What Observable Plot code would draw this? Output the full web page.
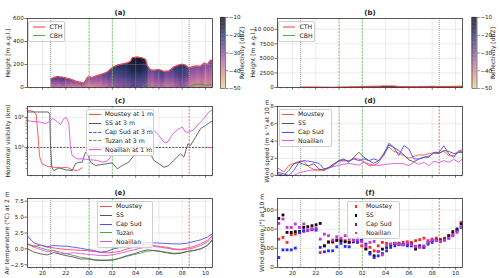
<!DOCTYPE html>
<html>
<head>
<meta charset="utf-8">
<script src="https://cdn.jsdelivr.net/npm/d3@7"></script>
<script src="https://cdn.jsdelivr.net/npm/@observablehq/plot@0.6"></script>
<style>
html,body{margin:0;padding:0;background:#fff;}
#fig{position:relative;width:500px;height:278px;overflow:hidden;background:#fff;font-family:"DejaVu Sans",sans-serif;}
#fig svg{position:absolute;overflow:visible;}
.leg{position:absolute;box-sizing:border-box;padding:0.5px 0;background:rgba(255,255,255,0.8);border:0.7px solid #cfcfcf;border-radius:2px;font-family:"DejaVu Sans",sans-serif;font-size:6.2px;color:#222;line-height:1;}
.leg .row{height:8.85px;display:flex;align-items:center;white-space:nowrap;}
.leg .sw{display:inline-block;width:12px;height:0;margin:0 4px 0 2px;}
.leg .mk{display:inline-block;width:2.8px;height:2.8px;margin:0 8.5px 0 6.6px;}
</style>
</head>
<body>
<div id="fig"></div>
<script>
// ---------- shared axis data ----------
const tickHours = [20, 22, 24, 26, 28, 30, 32, 34];
const tickLabels = ["20", "22", "00", "02", "04", "06", "08", "10"];
const xDomain = [18.71, 34.6];
const eventTime = [20.7, 24.0, 26.0, 32.6];
const eventKindTop = ["fog", "cloud", "cloud", "fog"];
const eventKindLow = ["fog", "cloud", "cloud", "end"];

// ---------- (a)/(b) cloud radar ----------
const cthTime = [20.69, 20.97, 21.26, 21.55, 21.83, 22.12, 22.40, 22.83, 23.26, 23.55,
  23.89, 24.27, 24.70, 25.13, 25.56, 25.99, 26.42, 26.85, 27.28, 27.56,
  27.70, 28.13, 28.56, 28.85, 29.00, 29.28, 29.56, 29.99, 30.42, 30.85,
  31.28, 31.71, 32.00, 32.28, 32.57, 33.14, 33.57, 33.86, 34.15, 34.43, 34.60];
const cth = [74, 88, 95, 92, 88, 80, 74, 56, 46, 38,
  94, 88, 105, 118, 135, 175, 195, 205, 215, 228,
  259, 265, 258, 245, 191, 155, 150, 158, 140, 145,
  180, 197, 203, 195, 172, 188, 185, 215, 200, 240, 235];
const reflLow = [-37, -36, -37, -35, -36, -37, -38, -39, -38, -39,
  -40, -39, -38, -36, -33, -31, -30, -29, -28, -26,
  -25, -26, -27, -29, -36, -37, -35, -34, -37, -36,
  -33, -30, -31, -34, -39, -40, -38, -41, -39, -40, -40];
const reflMid = [-31, -30, -29, -28, -30, -32, -33, -34, -33, -35,
  -35, -34, -33, -30, -27, -25, -23, -22, -20, -18,
  -17, -17, -19, -21, -30, -32, -29, -27, -31, -29,
  -25, -22, -23, -26, -34, -35, -33, -36, -34, -35, -35];
const reflTop = [-25, -24, -23, -22, -24, -26, -28, -30, -29, -31,
  -31, -30, -29, -26, -23, -20, -19, -18, -16, -15,
  -14, -14, -16, -18, -26, -28, -25, -23, -27, -25,
  -21, -19, -20, -23, -29, -30, -28, -31, -29, -30, -30];
const layerPos = [0.15, 0.55, 0.92];
const cbhTime = [28.45, 28.7, 28.95, 29.2, 29.42, 29.5, 32.5, 32.75, 33.0, 33.4, 33.8, 34.1, 34.35, 34.6];
const cbh = [0, 18, 26, 20, 0, null, 0, 15, 25, 27, 26, 20, 27, 28];
const reflStops = [-50, -44, -38, -32, -26, -20, -15, -10];
const reflColors = ["#e6d49a", "#dba58c", "#c97b9c", "#9b5aa2", "#5e4a90", "#2f3a6c", "#1a1d3a", "#0c0c12"];
const cbTicks = [-10, -20, -30, -40, -50];

// ---------- (c) visibility ----------
const visTimeMoustey = [18.71, 18.9, 19.2, 19.45, 19.6, 19.75, 19.95, 20.4, 20.97, 21.55, 22.12, 22.55, 22.98, 23.41, 23.5, 34.2, 34.6];
const visMoustey = [17000, 16800, 16000, 13000, 3000, 500, 290, 235, 220, 210, 220, 180, 170, 210, null, 1000, 1000];
const visTimeSS = [18.71, 20.5, 20.62, 20.69, 20.8, 20.97, 21.4, 21.97, 22.55, 22.83,
  23.12, 23.41, 23.69, 23.89, 24.12, 24.55, 24.98, 25.56, 25.99, 26.42,
  26.85, 27.41, 27.84, 28.13, 28.42, 28.8, 29.13, 29.56, 29.99, 30.42,
  30.85, 31.28, 31.57, 31.85, 32.14, 32.49, 32.71, 33.14, 33.57, 34.0, 34.43, 34.6];
const visSS = [15100, 15100, 12600, 1000, 219, 170, 209, 182, 170, 288,
  324, 324, 692, 617, 324, 251, 269, 288, 309, 195,
  251, 324, 537, 692, 912, 1000, 794, 372, 288, 219,
  251, 372, 479, 617, 479, 1318, 1175, 2188, 4169, 5370, 7000, 7500];
const visTimeNoaillan = [18.71, 18.86, 19.83, 20.26, 20.55, 20.83, 21.12, 21.55, 21.83, 22.06,
  22.26, 22.4, 22.55, 22.98, 23.55, 24.12, 24.7, 25.13, 25.56, 26.0,
  26.5, 27.0, 27.5, 28.0, 28.5, 29.13, 29.56, 29.99, 30.42, 30.71,
  31.0, 31.28, 31.71, 32.0, 32.28, 32.57, 33.0, 33.43, 33.86, 34.28, 34.6];
const visNoaillan = [7943, 7586, 6918, 6166, 7079, 9120, 7943, 5754, 9120, 9772,
  6166, 1023, 537, 417, 417, 389, 372, 324, 355, 562,
  1000, 1585, 2239, 2818, 3548, 4786, 3715, 2512, 1514, 1445,
  2188, 3020, 4169, 4786, 3236, 3236, 3890, 6166, 9120, 15136, 17783];
const visTicks = [1000, 10000];
const visTickLabels = ["10³", "10⁴"];
const visMinor = [200, 300, 400, 500, 600, 700, 800, 900, 2000, 3000, 4000, 5000, 6000, 7000, 8000, 9000, 20000];
const fogThreshold = [1000];

// ---------- (d) wind speed ----------
const dTime = [18.72, 19.25, 19.68, 20.11, 20.54, 20.97, 21.4, 21.83, 22.26, 22.69,
  23.12, 23.55, 23.98, 24.41, 24.84, 25.27, 25.7, 26.13, 26.56, 26.98,
  27.41, 27.84, 28.27, 28.7, 29.13, 29.56, 29.99, 30.42, 30.85, 31.28,
  31.71, 32.14, 32.57, 33.0, 33.42, 33.85, 34.28, 34.6];
const wsMoustey = [0.88, 0.4, 1.15, 1.4, 1.6, 1.65, 1.0, 0.7, 0.6, 0.63,
  0.85, 1.35, 1.65, 1.7, 1.72, 2.0, 1.9, 1.6, 1.15, 1.15,
  1.5, 2.6, 3.3, 2.8, 2.6, 2.3, 2.0, 2.2, 2.4, 2.35,
  2.55, 2.62, 2.65, 2.8, 2.3, 2.3, 2.8, 3.0];
const wsSS = [0.2, 0.0, 0.58, 1.35, 1.54, 1.27, 1.15, 1.35, 0.77, 0.58,
  0.96, 1.35, 1.73, 1.92, 1.54, 2.12, 2.69, 2.12, 1.73, 1.42,
  1.73, 2.31, 3.55, 3.25, 2.9, 2.4, 1.8, 1.6, 1.9, 2.1,
  2.25, 2.6, 2.55, 2.9, 2.8, 2.55, 2.65, 2.7];
const wsCapSud = [0.38, 0.2, 0.0, 0.58, 1.54, 1.73, 1.65, 1.54, 1.42, 0.77,
  0.88, 1.15, 1.73, 1.8, 1.65, 1.92, 1.73, 1.92, 1.73, 1.92,
  1.73, 2.5, 3.73, 3.27, 2.31, 3.46, 3.08, 1.92, 1.92, 2.12,
  2.12, 2.69, 2.69, 3.46, 2.5, 2.12, 2.88, 2.69];
const wsNoaillan = [0, 0, 0, 0, 0.3, 0.45, 0.58, 0.62, 0.67, 0.75,
  0.9, 1.04, 1.2, 1.3, 1.4, 1.3, 1.2, 1.54, 1.35, 1.2,
  1.15, 1.27, 1.33, 1.4, 1.4, 1.35, 1.15, 1.55, 1.3, 1.54,
  1.15, 1.65, 1.5, 1.73, 1.55, 1.85, 1.55, 1.92];
const wsTicks = [0, 2, 4, 6, 8];

// ---------- (e) air temperature ----------
const eTime = [18.72, 19.25, 19.83, 20.4, 20.97, 21.55, 22.12, 22.69, 23.26, 23.84,
  24.41, 24.98, 25.55, 26.13, 26.7, 27.27, 27.84, 28.42, 28.99, 29.56,
  30.14, 30.71, 31.28, 31.85, 32.43, 33.0, 33.57, 34.15, 34.58];
const tMoustey = [0.79, 0.35, 0.6, 0.26, 0.16, 0.0, -0.1, -0.16, -0.26, -0.26,
  -0.42, -0.53, -0.63, -0.53, -0.37, 0.0, 0.26, 0.53, 0.79, 0.53,
  0.37, 0.26, 0.0, -0.1, 0.16, 0.37, 0.79, 1.32, 2.1];
const tSS = [0.0, -0.5, -0.78, -0.95, -0.6, -0.85, -1.1, -1.3, -1.6, -1.58,
  -1.75, -1.84, -1.84, -1.74, -1.42, -1.05, -0.79, -0.42, -0.16, -0.26,
  -0.42, -0.63, -0.79, -0.68, -0.42, -0.26, 0.0, 0.53, 1.42];
const tCapSud = [2.0, 0.95, 0.6, 0.35, 0.53, 0.45, 0.42, 0.26, 0.1, -0.1,
  -0.26, -0.53, -0.37, 0.0, 0.26, 0.53, 0.68, 0.89, 1.0, 0.95,
  0.89, 0.84, 0.79, 0.79, 0.89, 1.16, 1.42, 1.84, 2.37];
const tTuzan = [0.68, 0.53, 0.16, -0.16, -0.26, -0.53, -0.79, -1.05, -1.32, -1.47,
  -1.68, -1.74, -1.74, -1.68, -1.47, -1.16, -0.89, -0.68, -0.37, -0.26,
  -0.37, -0.53, -0.68, -0.63, -0.42, -0.26, 0.0, 0.53, 1.32];
const tNoaillan = [0.79, 0.3, -0.1, -0.45, -0.3, -0.8, -0.75, -0.6, -0.75, -0.85,
  -0.95, -1.05, -1.05, -0.89, -0.68, -0.42, -0.16, 0.1, 0.37, 0.37,
  0.26, 0.1, -0.1, -0.16, -0.1, 0.16, 0.53, 1.05, 1.84];
const tTicks = [-2.5, 0, 2.5, 5, 7.5];
const tTickLabels = ["−2.5", "0.0", "2.5", "5.0", "7.5"];

// ---------- (f) wind direction ----------
const fTime = [18.82, 19.18, 19.53, 19.89, 20.24, 20.6, 20.96, 21.31, 21.67, 22.02,
  22.38, 22.74, 23.09, 23.45, 23.8, 24.16, 24.52, 24.87, 25.23, 25.58,
  25.94, 26.3, 26.65, 27.01, 27.36, 27.72, 28.08, 28.43, 28.79, 29.14,
  29.5, 29.86, 30.21, 30.57, 30.92, 31.28, 31.64, 31.99, 32.35, 32.7,
  33.06, 33.42, 33.77, 34.13, 34.48];
const wdMoustey = [148, 157, 131, 171, 174, 183, 188, 192, 201, 201,
  78, 113, 131, 131, 140, 143, 140, 134, 148, 152,
  113, 99, 105, 87, 113, 131, 126, 122, 126, 127,
  131, 134, 131, 140, 145, 153, 140, 148, 153, 148,
  153, 166, 178, 195, 235];
const wdSS = [256, 274, 183, 183, 187, 188, 209, 213, 218, 223,
  230, 113, 134, 136, 143, 140, 134, 131, 134, 140,
  140, 96, 78, 61, 84, 96, 105, 119, 126, 122,
  119, 122, 122, 96, 113, 105, 131, 140, 143, 140,
  148, 166, 187, 201, 227];
const wdCapSud = [52, 92, 92, 92, 101, 183, 192, 195, 197, 195,
  105, 82, 87, 87, 108, 126, 110, 108, 140, 131,
  143, 122, 70, 52, 61, 73, 87, 105, 113, 119,
  119, 113, 113, 110, 108, 110, 122, 131, 143, 136,
  143, 153, 166, 192, 209];
const wdNoaillan = [230, 253, 209, 209, 227, 209, 227, 195, 201, 206,
  148, 174, 166, 143, 160, 153, 166, 148, 140, 143,
  134, 113, 131, 136, 84, 66, 113, 122, 126, 122,
  119, 126, 119, 108, 105, 113, 131, 143, 140, 136,
  143, 153, 166, 183, 213];
const wdTicks = [0, 100, 200, 300];

// ---------- styling ----------
const C = {Moustey: "#ff4d4d", SS: "#555555", CapSud: "#4d4dff", Tuzan: "#4ca64c", Noaillan: "#dc55e0"};
const CDOT = {Moustey: "#ff2a2a", SS: "#111111", CapSud: "#2a2aff", Noaillan: "#c636e0"};
const EV = {
  fog: {stroke: "#9a9a9a", strokeDasharray: "1,1", strokeWidth: 1},
  cloud: {stroke: "#5cbf5c", strokeDasharray: "2,1.3", strokeWidth: 0.8},
  end: {stroke: "#e84848", strokeDasharray: "2,1.3", strokeWidth: 0.8}
};
const GRID = {stroke: "#b8b8b8", strokeOpacity: 0.45, strokeWidth: 0.6};
const ROWS = [{top: 0, h: 92, mt: 18, mb: 5}, {top: 92, h: 88, mt: 14, mb: 5}, {top: 180, h: 98, mt: 18, mb: 11}];
const ML = 27, MR = 38;
const minorHours = d3.range(19, 34.6, 0.5).filter(h => !tickHours.includes(h));
const fig = document.getElementById("fig");
const STYLE = {fontFamily: "DejaVu Sans, sans-serif", fontSize: "5.6px", background: "transparent", color: "#222", overflow: "visible"};

function pts(ts, vs) { return ts.map((t, i) => ({t, v: vs[i]})); }

function timeAxes(row) {
  return [
    Plot.axisX(minorHours, {tickSize: 1.4, tickFormat: () => "", label: null, stroke: "#333", strokeWidth: 0.6}),
    Plot.axisX(tickHours, {tickSize: 2.6, tickPadding: 1.2, label: null, stroke: "#333", strokeWidth: 0.7,
      tickFormat: row === 2 ? (d => tickLabels[tickHours.indexOf(d)]) : (() => "")})
  ];
}
function eventRules(kinds) {
  return eventTime.map((t, i) => Plot.ruleX([t], {...EV[kinds[i]]}));
}

function panel(col, row, o) {
  const R = ROWS[row];
  const svg = Plot.plot({
    width: 250, height: R.h,
    marginLeft: ML, marginRight: MR, marginTop: R.mt, marginBottom: R.mb,
    style: STYLE,
    x: {domain: xDomain},
    y: o.y,
    color: o.color,
    marks: [
      ...(o.under || []),
      Plot.gridX(tickHours, GRID),
      Plot.gridY(o.yTicks, GRID),
      ...eventRules(o.kinds),
      ...o.marks,
      Plot.frame({stroke: "#333", strokeWidth: 0.8}),
      ...timeAxes(row),
      Plot.axisY(o.yTicks, {tickSize: 2.6, tickPadding: 1.2, label: null, stroke: "#333", strokeWidth: 0.7,
        tickFormat: d => o.yLabels[o.yTicks.indexOf(d)]}),
      ...(o.yMinor ? [Plot.axisY(o.yMinor, {tickSize: 1.4, tickFormat: () => "", label: null, stroke: "#333", strokeWidth: 0.6})] : []),
      Plot.text([o.title], {text: d => d, frameAnchor: "top", dy: -3.5, lineAnchor: "bottom", fontWeight: "bold", fontSize: 7}),
      Plot.text([o.ylabel], {text: d => d, frameAnchor: "left", dx: -o.ylOff, rotate: -90, fontSize: 6, textAnchor: "middle"})
    ]
  });
  svg.style.left = (col * 250) + "px";
  svg.style.top = R.top + "px";
  fig.append(svg);
}

function colorbar(left, ml, lblOff) {
  const ramp = d3.range(-50, -10, 0.25);
  const svg = Plot.plot({
    width: 38, height: 92, marginLeft: ml, marginRight: 38 - ml - 5, marginTop: 17, marginBottom: 4,
    style: STYLE,
    x: {domain: [0, 1], axis: null},
    y: {domain: [-50, -10]},
    color: {type: "linear", domain: reflStops, range: reflColors, clamp: true},
    marks: [
      Plot.rect(ramp, {x1: 0, x2: 1, y1: d => d, y2: d => d + 0.3, fill: d => d}),
      Plot.frame({stroke: "#333", strokeWidth: 0.6}),
      Plot.axisY(cbTicks, {anchor: "right", tickSize: 2.2, tickPadding: 1, label: null, stroke: "#333", strokeWidth: 0.6,
        tickFormat: d => "−" + Math.abs(d)}),
      Plot.text(["Reflectivity [dBZ]"], {text: d => d, frameAnchor: "right", dx: lblOff, rotate: -90, fontSize: 6, textAnchor: "middle"})
    ]
  });
  svg.style.left = left + "px";
  svg.style.top = "0px";
  fig.append(svg);
}

function reflAt(t, h) {
  const n = cthTime.length;
  if (!(t >= cthTime[0] && t <= cthTime[n - 1]) || h < 0) return NaN;
  let i = d3.bisectRight(cthTime, t) - 1;
  if (i > n - 2) i = n - 2;
  if (i < 0) i = 0;
  const f = (t - cthTime[i]) / (cthTime[i + 1] - cthTime[i]);
  const top = cth[i] + f * (cth[i + 1] - cth[i]);
  if (h > top) return NaN;
  const r = h / top;
  const lv = [reflLow[i], reflMid[i], reflTop[i]];
  if (r <= layerPos[0]) return lv[0];
  if (r <= layerPos[1]) return lv[0] + (r - layerPos[0]) / (layerPos[1] - layerPos[0]) * (lv[1] - lv[0]);
  if (r <= layerPos[2]) return lv[1] + (r - layerPos[1]) / (layerPos[2] - layerPos[1]) * (lv[2] - lv[1]);
  return lv[2];
}

function radarMarks(yMax, rows) {
  let img;
  if (typeof Plot.raster === "function") {
    img = Plot.raster({x1: xDomain[0], x2: xDomain[1], y1: 0, y2: yMax, width: 370, height: rows, fill: reflAt, imageRendering: "auto"});
  } else {
    const cells = [];
    for (let i = 0; i < cthTime.length - 1; i++) {
      const fr = [0, 0.35, 0.75, 1], v = [reflLow[i], reflMid[i], reflTop[i]];
      for (let j = 0; j < 3; j++) cells.push({x1: cthTime[i], x2: cthTime[i + 1], y1: fr[j] * cth[i], y2: fr[j + 1] * cth[i], v: v[j]});
    }
    img = Plot.rect(cells, {x1: "x1", x2: "x2", y1: "y1", y2: "y2", fill: "v"});
  }
  return [img];
}
const radarLines = () => [
  Plot.line(pts(cbhTime, cbh), {x: "t", y: "v", stroke: "#3fa03f", strokeWidth: 1}),
  Plot.line(pts(cthTime, cth), {x: "t", y: "v", stroke: "#ff3535", strokeWidth: 1})
];
const colorOpts = {type: "linear", domain: reflStops, range: reflColors, clamp: true};

// (a)
panel(0, 0, {
  y: {domain: [0, 600]}, color: colorOpts, yTicks: [0, 200, 400, 600], yLabels: ["0", "200", "400", "600"],
  kinds: eventKindTop, under: radarMarks(600, 138), marks: radarLines(),
  title: "(a)", ylabel: "Height [m a.g.l.]", ylOff: 19.5
});
// (b)
panel(1, 0, {
  y: {domain: [0, 11850]}, color: colorOpts, yTicks: [0, 2500, 5000, 7500, 10000],
  yLabels: ["0", "2500", "5000", "7500", "10 000"],
  kinds: eventKindTop, under: radarMarks(11850, 276), marks: radarLines(),
  title: "(b)", ylabel: "Height [m a.g.l.]", ylOff: 24
});
// (c)
panel(0, 1, {
  y: {type: "log", domain: [117, 23000]}, yTicks: visTicks, yLabels: visTickLabels, yMinor: visMinor,
  kinds: eventKindLow,
  marks: [
    Plot.ruleY(fogThreshold, {stroke: "#333", strokeDasharray: "2,1.3", strokeWidth: 0.8}),
    Plot.line(pts(visTimeMoustey, visMoustey), {x: "t", y: "v", stroke: C.Moustey, strokeWidth: 0.9}),
    Plot.line(pts(visTimeSS, visSS), {x: "t", y: "v", stroke: C.SS, strokeWidth: 0.9}),
    Plot.line(pts(visTimeNoaillan, visNoaillan), {x: "t", y: "v", stroke: C.Noaillan, strokeWidth: 0.9})
  ],
  title: "(c)", ylabel: "Horizontal visibility (km)", ylOff: 19
});
// (d)
panel(1, 1, {
  y: {domain: [0, 8]}, yTicks: wsTicks, yLabels: wsTicks.map(String), kinds: eventKindLow,
  marks: [
    Plot.line(pts(dTime, wsNoaillan), {x: "t", y: "v", stroke: C.Noaillan, strokeWidth: 0.9}),
    Plot.line(pts(dTime, wsMoustey), {x: "t", y: "v", stroke: C.Moustey, strokeWidth: 0.9}),
    Plot.line(pts(dTime, wsSS), {x: "t", y: "v", stroke: C.SS, strokeWidth: 0.9}),
    Plot.line(pts(dTime, wsCapSud), {x: "t", y: "v", stroke: C.CapSud, strokeWidth: 0.9})
  ],
  title: "(d)", ylabel: "Wind speed (m s⁻¹) at 10 m", ylOff: 10.5
});
// (e)
panel(0, 2, {
  y: {domain: [-2.93, 7.93]}, yTicks: tTicks, yLabels: tTickLabels, kinds: eventKindLow,
  marks: [
    Plot.line(pts(eTime, tTuzan), {x: "t", y: "v", stroke: C.Tuzan, strokeWidth: 0.9}),
    Plot.line(pts(eTime, tSS), {x: "t", y: "v", stroke: C.SS, strokeWidth: 0.9}),
    Plot.line(pts(eTime, tNoaillan), {x: "t", y: "v", stroke: C.Noaillan, strokeWidth: 0.9}),
    Plot.line(pts(eTime, tMoustey), {x: "t", y: "v", stroke: C.Moustey, strokeWidth: 0.9}),
    Plot.line(pts(eTime, tCapSud), {x: "t", y: "v", stroke: C.CapSud, strokeWidth: 0.9})
  ],
  title: "(e)", ylabel: "Air temperature (°C) at 2 m", ylOff: 20.3
});
// (f)
panel(1, 2, {
  y: {domain: [0, 360]}, yTicks: wdTicks, yLabels: wdTicks.map(String), kinds: eventKindLow,
  marks: [
    Plot.dot(pts(fTime, wdMoustey), {x: "t", y: "v", symbol: "square", r: 1.6, fill: CDOT.Moustey}),
    Plot.dot(pts(fTime, wdSS), {x: "t", y: "v", symbol: "square", r: 1.6, fill: CDOT.SS}),
    Plot.dot(pts(fTime, wdCapSud), {x: "t", y: "v", symbol: "square", r: 1.6, fill: CDOT.CapSud}),
    Plot.dot(pts(fTime, wdNoaillan), {x: "t", y: "v", symbol: "square", r: 1.6, fill: CDOT.Noaillan})
  ],
  title: "(f)", ylabel: "Wind direction (°) at 10 m", ylOff: 15.5
});

colorbar(212, 8, 17);
colorbar(462, 9.5, 16.5);

// ---------- legends (HTML) ----------
function addLegend(left, top, width, items, swMargin) {
  const box = document.createElement("div");
  box.className = "leg";
  box.style.left = left + "px"; box.style.top = top + "px"; box.style.width = width + "px";
  for (const it of items) {
    const row = document.createElement("div");
    row.className = "row";
    const sw = document.createElement("span");
    if (it.marker) { sw.className = "mk"; sw.style.background = it.color; }
    else {
      sw.className = "sw";
      sw.style.borderTop = `${it.w || 1}px ${it.dash ? "dashed" : "solid"} ${it.color}`;
      if (swMargin) sw.style.margin = swMargin;
    }
    const tx = document.createElement("span");
    tx.textContent = it.label;
    row.append(sw, tx);
    box.append(row);
  }
  fig.append(box);
}
const radarLegend = [
  {label: "CTH", color: "rgba(255,90,90,0.6)", w: 2.6},
  {label: "CBH", color: "#4fae4f", w: 1}
];
addLegend(28, 21, 37, radarLegend, "0 5px 0 3.5px");
addLegend(278, 21, 37, radarLegend, "0 5px 0 3.5px");
addLegend(86, 108.5, 68, [
  {label: "Moustey at 1 m", color: C.Moustey},
  {label: "SS at 3 m", color: C.SS},
  {label: "Cap Sud at 3 m", color: C.CapSud, dash: true},
  {label: "Tuzan at 3 m", color: C.Tuzan, dash: true},
  {label: "Noaillan at 1 m", color: C.Noaillan}
]);
addLegend(279, 108.5, 53, [
  {label: "Moustey", color: C.Moustey},
  {label: "SS", color: C.SS},
  {label: "Cap Sud", color: C.CapSud},
  {label: "Noaillan", color: C.Noaillan}
]);
addLegend(97, 200.5, 56, [
  {label: "Moustey", color: C.Moustey},
  {label: "SS", color: C.SS},
  {label: "Cap Sud", color: C.CapSud},
  {label: "Tuzan", color: C.Tuzan},
  {label: "Noaillan", color: C.Noaillan}
]);
addLegend(347, 200.5, 53, [
  {label: "Moustey", color: CDOT.Moustey, marker: true},
  {label: "SS", color: CDOT.SS, marker: true},
  {label: "Cap Sud", color: CDOT.CapSud, marker: true},
  {label: "Noaillan", color: CDOT.Noaillan, marker: true}
]);
</script>
</body>
</html>
